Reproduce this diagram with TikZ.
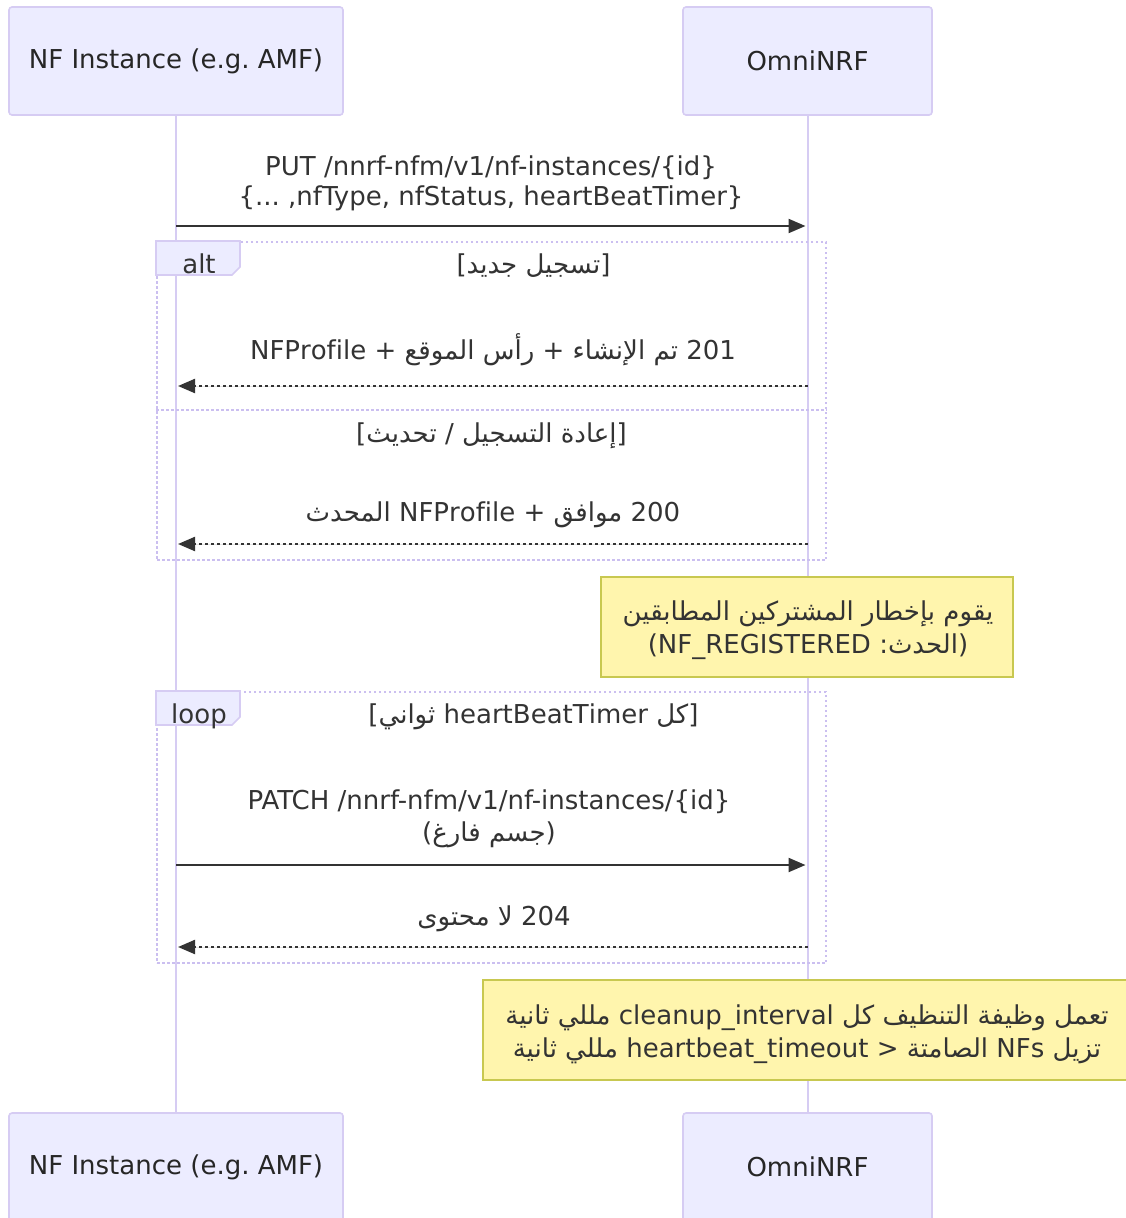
\documentclass[tikz,border=0pt]{standalone}
\usepackage{fontspec}
\setmainfont{DejaVu Sans}
\newfontfamily\arabicfont[Script=Arabic]{DejaVu Sans}
\TeXXeTstate=1
\frenchspacing
\usetikzlibrary{positioning}
\usetikzlibrary{calc}
\usetikzlibrary{arrows.meta}
\definecolor{actorfill}{HTML}{ECECFF}
\definecolor{actorline}{HTML}{D6CCF3}
\definecolor{frameline}{HTML}{CBBFF0}
\definecolor{notefill}{HTML}{FFF5AD}
\definecolor{noteline}{HTML}{C8C850}
\definecolor{signal}{HTML}{333333}
\begin{document}
\begin{tikzpicture}[x=1pt, y=-1pt, >={Triangle[length=17pt,width=14pt]},
  font=\fontsize{26}{31}\selectfont]
% --- Layout & Styles --------------------------------------
\tikzstyle{actor}=[draw=actorline, fill=actorfill, line width=1.6pt, rounded corners=3pt, text=black!85, inner sep=0pt, minimum height=108pt]
\tikzstyle{lifeline}=[draw=actorline, line width=2pt]
\tikzstyle{call}=[draw=signal, fill=signal, line width=2.2pt, ->, shorten >=2pt]
\tikzstyle{reply}=[call, dash pattern=on 3pt off 3pt]
\tikzstyle{frame}=[draw=frameline, line width=2pt, dash pattern=on 2.5pt off 2.5pt, inner sep=0pt]
\tikzstyle{tab}=[draw=actorline, fill=actorfill, line width=1.6pt]
\tikzstyle{note}=[draw=noteline, fill=notefill, line width=1.6pt, inner sep=0pt, minimum height=100pt]
\tikzstyle{txt}=[text=signal, inner sep=0pt, anchor=base]
\useasboundingbox (0,0) rectangle (1126,1218);
% --- Actors -----------------------------------------------
\node (nf)    [actor, minimum width=334pt] at (176,61)    {NF Instance (e.g. AMF)};
\node (nrf)   [actor, minimum width=249pt] at (807.5,61)  {OmniNRF};
\node (nf-b)  [actor, minimum width=334pt] at (176,1167)  {NF Instance (e.g. AMF)};
\node (nrf-b) [actor, minimum width=249pt] at (807.5,1167) {OmniNRF};
\draw [lifeline] (nf) -- (nf-b);
\draw [lifeline] (nrf) -- (nrf-b);

% --- Register ---------------------------------------------
\node (put-a) [txt] at (491,175) {PUT /nnrf-nfm/v1/nf-instances/\{id\}};
\node (put-b) [txt] at (491,205) {\{... ,nfType, nfStatus, heartBeatTimer\}};
\draw [call] (nf |- 0,226) -- (nrf |- 0,226);

% --- alt --------------------------------------------------
\node (alt) [frame, minimum width=669pt, minimum height=318pt] at (491.5,401) {};
\draw [tab] (alt.north west) -- ++(84,0) -- ++(0,26) -- ++(-8,8) -- ++(-76,0) -- cycle;
\node (alt-l) [txt] at (199,273) {alt};
\node (alt-g) [txt] at (533.5,273) {[{\arabicfont\beginR تسجيل جديد\endR}]};
\node (created) [txt] at (493,359) {\arabicfont\beginR 201 تم الإنشاء + رأس الموقع + NFProfile\endR};
\draw [reply] (nrf |- 0,386) -- (nf |- 0,386);
\draw [frame] (alt.west |- 0,410) -- (alt.east |- 0,410);
\node (upd-g) [txt] at (491.5,442) {[{\arabicfont\beginR إعادة التسجيل / تحديث\endR}]};
\node (ok) [txt] at (493,521) {\arabicfont\beginR 200 موافق + NFProfile المحدث\endR};
\draw [reply] (nrf |- 0,544) -- (nf |- 0,544);

% --- Notify -----------------------------------------------
\node (notify) [note, minimum width=412pt] at (807,627) {};
\node (notify-a) [txt] at (808,620) {\arabicfont\beginR يقوم بإخطار المشتركين المطابقين\endR};
\node (notify-b) [txt] at (808,653) {(NF\_REGISTERED :{\arabicfont\beginR الحدث\endR})};

% --- loop -------------------------------------------------
\node (loop) [frame, minimum width=669pt, minimum height=271pt] at (491.5,827.5) {};
\draw [tab] (loop.north west) -- ++(84,0) -- ++(0,26) -- ++(-8,8) -- ++(-76,0) -- cycle;
\node (loop-l) [txt] at (199,723) {loop};
\node (loop-g) [txt] at (533.5,723) {[{\arabicfont\beginR كل heartBeatTimer ثواني\endR}]};
\node (patch-a) [txt] at (489,809) {PATCH /nnrf-nfm/v1/nf-instances/\{id\}};
\node (patch-b) [txt] at (489,841) {({\arabicfont\beginR جسم فارغ\endR})};
\draw [call] (nf |- 0,865) -- (nrf |- 0,865);
\node (nocontent) [txt] at (494,925) {\arabicfont\beginR 204 لا محتوى\endR};
\draw [reply] (nrf |- 0,947) -- (nf |- 0,947);

% --- Cleanup ----------------------------------------------
\node (cleanup) [note, minimum width=648pt] at (807,1030) {};
\node (cleanup-a) [txt] at (807,1024) {\arabicfont\beginR تعمل وظيفة التنظيف كل cleanup\_interval مللي ثانية\endR};
\node (cleanup-b) [txt] at (807,1057) {\arabicfont\beginR تزيل NFs الصامتة < heartbeat\_timeout مللي ثانية\endR};
\end{tikzpicture}
\end{document}
